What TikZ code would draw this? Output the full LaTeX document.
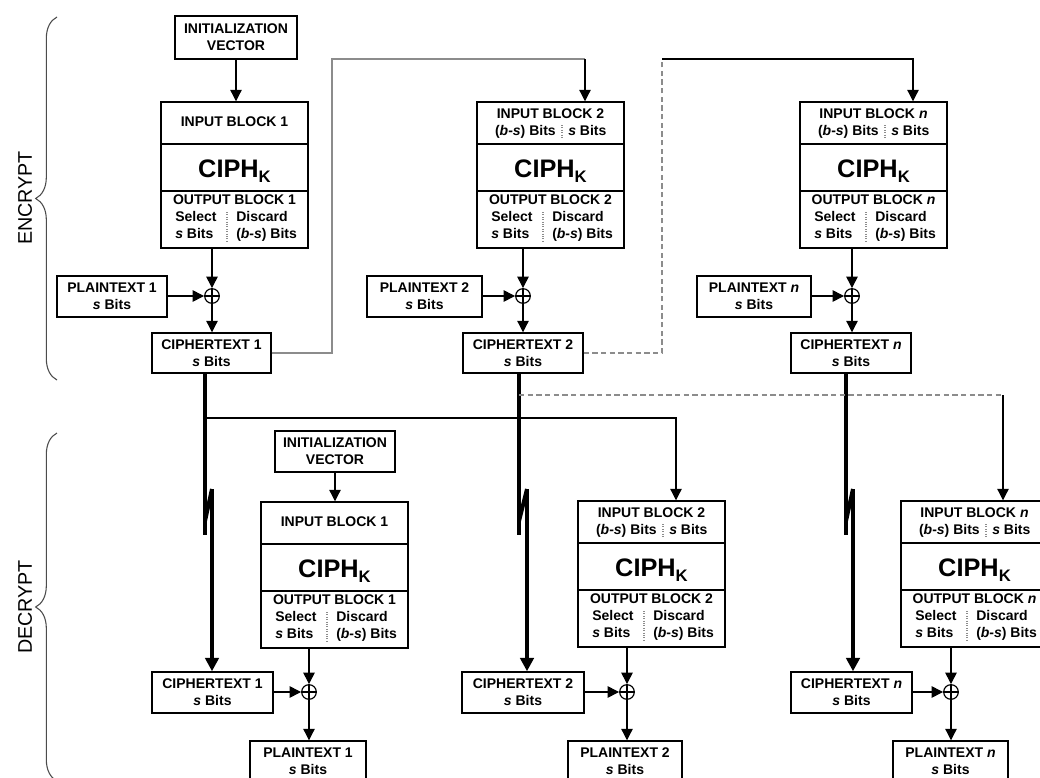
\documentclass[tikz,border=0pt]{standalone}
\usepackage{fontspec}
\setmainfont{Liberation Sans}
\usetikzlibrary{arrows.meta,decorations.pathreplacing}

\newcommand\boxfont{\fontsize{10.5}{12.5}\selectfont\bfseries}
\newcommand\ciphK{{\fontsize{19}{20}\selectfont\bfseries CIPH\raisebox{-4pt}{\fontsize{12.5}{13}\selectfont K}}}

\newcommand\pxbox[6]{%
 \pgfmathsetmacro\bxw{(#4-(#2))*0.75}%
 \pgfmathsetmacro\bxh{(#5-(#3))*0.75}%
 \node[box, minimum width=\bxw pt, minimum height=\bxh pt] (#1) at ({(#2+#4)/2},{(#3+#5)/2}) {#6};}

\newcommand\cblk[4]{%
 \pxbox{#1a}{#2}{#3}{#2+147}{#3+42}{}%
 \pxbox{#1b}{#2}{#3+42}{#2+147}{#3+89}{}%
 \pxbox{#1c}{#2}{#3+89}{#2+147}{#3+146}{}%
 \node[txt, anchor=base] (#1k) at ({#2+73.5},{#3+75}) {\ciphK};
 \node[txt, anchor=mid] (#1o) at ({#2+73.5},{#3+99}) {OUTPUT BLOCK #4};
 \node[txt, anchor=mid west] (#1s1) at ({#2+14},{#3+116}) {Select};
 \node[txt, anchor=mid west] (#1s2) at ({#2+14},{#3+133}) {\textit{s} Bits};
 \node[txt, anchor=mid west] (#1d1) at ({#2+75},{#3+116}) {Discard};
 \node[txt, anchor=mid west] (#1d2) at ({#2+75},{#3+133}) {(\textit{b}-\textit{s}) Bits};
 \draw[sep] ({#2+66},{#3+110}) -- ({#2+66},{#3+139});
}
\newcommand\inone[3]{\node[txt, anchor=mid] (#1i) at ({#2+73.5},{#3+21}) {INPUT BLOCK 1};}
\newcommand\intwo[4]{%
 \node[txt, anchor=mid] (#1i) at ({#2+73.5},{#3+13}) {INPUT BLOCK #4};
 \node[txt, anchor=mid east] (#1l) at ({#2+79},{#3+30}) {(\textit{b}-\textit{s}) Bits};
 \node[txt, anchor=mid west] (#1r) at ({#2+91},{#3+30}) {\textit{s} Bits};
 \draw[sep] ({#2+85},{#3+23}) -- ({#2+85},{#3+37});}

\begin{document}
\begin{tikzpicture}[x=0.75pt, y=-0.75pt,
  box/.style={draw, line width=1.1pt, inner sep=0pt, align=center, font=\boxfont},
  txt/.style={inner sep=0pt, font=\boxfont},
  xorn/.style={circle, draw, line width=0.9pt, minimum size=11pt, inner sep=0pt,
    path picture={\draw[line width=0.9pt] (path picture bounding box.north) -- (path picture bounding box.south)
      (path picture bounding box.west) -- (path picture bounding box.east);}},
  arr/.style={line width=0.9pt, -{Triangle[length=8.5pt,width=8.5pt]}},
  thk/.style={line width=3pt},
  thkarr/.style={line width=3pt, -{Triangle[length=10pt,width=10pt]}},
  sep/.style={draw=black!45, line width=0.8pt, densely dotted},
  fb/.style={line width=0.9pt, draw=black!45},
  dsh/.style={line width=0.9pt, draw=black!45, dash pattern=on 4pt off 2.5pt},
  brc/.style={draw=black!70, line width=0.8pt, decorate, decoration={brace, amplitude=16pt, aspect=0.5}},
  side/.style={rotate=90, inner sep=0pt, font=\fontsize{14.8}{16}\selectfont}]
\useasboundingbox (0,0) rectangle (1040,778);
\fill[white] (0,0) rectangle (1040,778);
\clip (0,0) rectangle (1040,778);

% ---------- braces and side labels
\draw[brc] (57,380) -- (57,17);
\node[side] (enc) at (25,198) {ENCRYPT};
\draw[brc] (57,781) -- (57,433);
\node[side] (dec) at (25,607) {DECRYPT};

% ---------- ENCRYPT
\pxbox{iv1}{175}{16}{297}{59}{INITIALIZATION\\VECTOR}
\cblk{e1}{161}{102}{1}
\inone{e1}{161}{102}
\pxbox{pt1}{57}{276}{167}{317}{PLAINTEXT 1\\\textit{s} Bits}
\node[xorn] (xe1) at (212,296) {};
\pxbox{ct1}{152}{333}{271}{373}{CIPHERTEXT 1\\\textit{s} Bits}

\cblk{e2}{477}{102}{2}
\intwo{e2}{477}{102}{2}
\pxbox{pt2}{367}{276}{482}{317}{PLAINTEXT 2\\\textit{s} Bits}
\node[xorn] (xe2) at (523,296) {};
\pxbox{ct2}{463}{333}{583}{373}{CIPHERTEXT 2\\\textit{s} Bits}

\cblk{en}{800}{102}{\textit{n}}
\intwo{en}{800}{102}{\textit{n}}
\pxbox{ptn}{697}{276}{811}{317}{PLAINTEXT \textit{n}\\\textit{s} Bits}
\node[xorn] (xen) at (852,296) {};
\pxbox{ctn}{791}{333}{911}{373}{CIPHERTEXT \textit{n}\\\textit{s} Bits}

% ---------- DECRYPT
\pxbox{iv2}{275}{431}{395}{472}{INITIALIZATION\\VECTOR}
\cblk{d1}{261}{502}{1}
\inone{d1}{261}{502}
\pxbox{dct1}{152}{672}{273}{713}{CIPHERTEXT 1\\\textit{s} Bits}
\node[xorn] (xd1) at (309,692) {};
\pxbox{dpt1}{250}{741}{366}{781}{PLAINTEXT 1\\\textit{s} Bits}

\cblk{d2}{578}{501}{2}
\intwo{d2}{578}{501}{2}
\pxbox{dct2}{462}{672}{584}{713}{CIPHERTEXT 2\\\textit{s} Bits}
\node[xorn] (xd2) at (627,692) {};
\pxbox{dpt2}{568}{741}{682}{781}{PLAINTEXT 2\\\textit{s} Bits}

\cblk{dn}{901}{501}{\textit{n}}
\intwo{dn}{901}{501}{\textit{n}}
\pxbox{dctn}{791}{672}{912}{713}{CIPHERTEXT \textit{n}\\\textit{s} Bits}
\node[xorn] (xdn) at (951,692) {};
\pxbox{dptn}{893}{741}{1008}{781}{PLAINTEXT \textit{n}\\\textit{s} Bits}

% ---------- encrypt connectors
\draw[arr] (iv1.south) -- (iv1.south |- e1a.north);
\foreach \b in {1,2,n}{
  \draw[arr] (xe\b |- e\b c.south) -- (xe\b.north);
  \draw[arr] (pt\b.east |- xe\b) -- (xe\b.west);
  \draw[arr] (xe\b.south) -- (xe\b |- ct\b.north);
  \draw[arr] (xd\b |- d\b c.south) -- (xd\b.north);
  \draw[arr] (dct\b.east |- xd\b) -- (xd\b.west);
  \draw[arr] (xd\b.south) -- (xd\b |- dpt\b.north);
}
\draw[arr] (iv2.south) -- (iv2.south |- d1a.north);

% feedback lines (encrypt)
\draw[fb] (ct1.east) -| (332,59) -- (585,59);
\draw[arr] (585,59) -- (585,0 |- e2a.north);
\draw[dsh] (ct2.east) -| (662,59);
\draw[arr] (662,59) -| (913,0 |- ena.north);

% ciphertext transfer (thick, with break)
\draw[thk] (205,0 |- ct1.south) -- (205,535);
\draw[thk] (205,521) -- (212,489);
\draw[thkarr] (212,489) -- (212,0 |- dct1.north);
\draw[thk] (519,0 |- ct2.south) -- (519,535);
\draw[thk] (519,521) -- (527,489);
\draw[thkarr] (527,489) -- (527,0 |- dct2.north);
\draw[thk] (846,0 |- ctn.south) -- (846,535);
\draw[thk] (846,521) -- (853,489);
\draw[thkarr] (853,489) -- (853,0 |- dctn.north);

% feedback lines (decrypt)
\draw[arr] (205,418) -| (676,0 |- d2a.north);
\draw[dsh] (519,395) -- (1003,395);
\draw[arr] (1003,395) -- (1003,0 |- dna.north);
\end{tikzpicture}
\end{document}
